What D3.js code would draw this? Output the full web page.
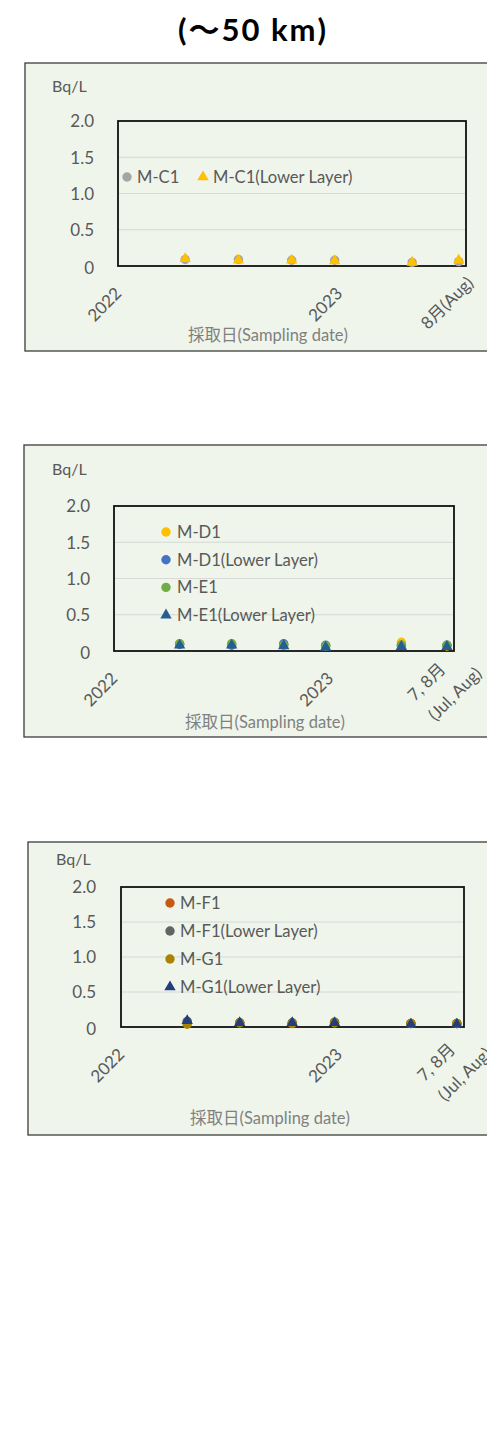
<!DOCTYPE html>
<html>
<head>
<meta charset="utf-8">
<script src="https://cdn.jsdelivr.net/npm/d3@7"></script>
<style>
  html, body { margin: 0; padding: 0; background: #ffffff; }
  svg { display: block; }
  text { font-family: Lato, "Noto Sans", "Noto Sans CJK JP", sans-serif; }
</style>
</head>
<body>
<svg id="chart" width="487" height="1429"></svg>
<script>
// ---------------- DATA ----------------
const titleText = "(〜50 km)";
const unitLabel = "Bq/L";
const axisTitle = "採取日(Sampling date)";
const sampleDates = ["2022-04-22", "2022-07-19", "2022-10-15", "2022-12-25", "2023-05-02", "2023-07-18"];
const xDomain = ["2022-01-01", "2023-07-30"];
const yTicks = [0, 0.5, 1.0, 1.5, 2.0];
const yTickLabels = ["0", "0.5", "1.0", "1.5", "2.0"];
const xTickDates = ["2022-01-01", "2023-01-01"];
const xTickLabels = ["2022", "2023"];
const endLabelPanel1 = ["8月(Aug)"];
const endLabelPanel23 = ["7, 8月", "(Jul, Aug)"];

// Panel 1
const names1 = ["M-C1", "M-C1(Lower Layer)"];
const mC1      = [0.09, 0.09, 0.08, 0.08, 0.05, 0.06];
const mC1Lower = [0.10, 0.08, 0.08, 0.07, 0.05, 0.08];

// Panel 2
const names2 = ["M-D1", "M-D1(Lower Layer)", "M-E1", "M-E1(Lower Layer)"];
const mD1      = [0.10, 0.10, 0.09, 0.07, 0.12, 0.07];
const mD1Lower = [0.09, 0.08, 0.10, 0.08, 0.08, 0.08];
const mE1      = [0.10, 0.10, 0.08, 0.07, 0.08, 0.08];
const mE1Lower = [0.08, 0.08, 0.07, 0.05, 0.06, 0.06];

// Panel 3
const names3 = ["M-F1", "M-F1(Lower Layer)", "M-G1", "M-G1(Lower Layer)"];
const mF1      = [0.07, 0.06, 0.05, 0.06, 0.05, 0.05];
const mF1Lower = [0.08, 0.06, 0.06, 0.07, 0.05, 0.05];
const mG1      = [0.04, 0.06, 0.05, 0.06, 0.05, 0.05];
const mG1Lower = [0.09, 0.06, 0.06, 0.06, 0.04, 0.04];

// ---------------- STYLE / LAYOUT ----------------
const parse = d3.timeParse("%Y-%m-%d");
const svg = d3.select("#chart");
const bg = "#eff5eb";
const tickColor = "#595959";

svg.append("text")
  .attr("x", 253).attr("y", 29)
  .attr("text-anchor", "middle").attr("dominant-baseline", "central")
  .attr("font-family", "'Noto Sans CJK JP', 'Noto Sans', sans-serif")
  .attr("font-size", 31).attr("font-weight", 700).attr("fill", "#000")
  .attr("letter-spacing", 2)
  .text(titleText);

const panels = [
  {
    box: {x: 25, y: 63, h: 288}, plot: {l: 118, r: 466, t: 121, b: 266},
    yLabX: 94, unit: {x: 52, y: 85}, titleY: 335, titleX: 268,
    series: [
      {name: names1[0], values: mC1, color: "#a5a5a5", shape: "circle"},
      {name: names1[1], values: mC1Lower, color: "#ffc000", shape: "triangle"}
    ],
    legend: {type: "row", y: 177, items: [{sx: 127, tx: 137}, {sx: 203, tx: 213}]},
    endLabel: endLabelPanel1, endOffsets: [[-19.3, 36.5]]
  },
  {
    box: {x: 24, y: 445, h: 292}, plot: {l: 114, r: 454, t: 506, b: 651},
    yLabX: 90, unit: {x: 52, y: 468.5}, titleY: 722, titleX: 265,
    series: [
      {name: names2[0], values: mD1, color: "#ffc000", shape: "circle"},
      {name: names2[1], values: mD1Lower, color: "#4472c4", shape: "circle"},
      {name: names2[2], values: mE1, color: "#70ad47", shape: "circle"},
      {name: names2[3], values: mE1Lower, color: "#255e91", shape: "triangle"}
    ],
    legend: {type: "col", sx: 166, tx: 177, y0: 532, dy: 27.7},
    endLabel: endLabelPanel23, endOffsets: [[-28, 30.5], [0.5, 42.5]]
  },
  {
    box: {x: 28, y: 842, h: 293}, plot: {l: 121, r: 464, t: 887, b: 1027},
    yLabX: 96, unit: {x: 56, y: 858.5}, titleY: 1118, titleX: 270,
    series: [
      {name: names3[0], values: mF1, color: "#c55a11", shape: "circle"},
      {name: names3[1], values: mF1Lower, color: "#636363", shape: "circle"},
      {name: names3[2], values: mG1, color: "#a88300", shape: "circle"},
      {name: names3[3], values: mG1Lower, color: "#203f7c", shape: "triangle"}
    ],
    legend: {type: "col", sx: 170, tx: 180, y0: 903, dy: 28},
    endLabel: endLabelPanel23, endOffsets: [[-28.2, 34.7], [0.3, 46.7]]
  }
];

const tri = d3.symbol().type(d3.symbolTriangle).size(56);

function marker(g, shape, color, x, y) {
  if (shape === "circle") {
    g.append("circle").attr("cx", x).attr("cy", y).attr("r", 4.7).attr("fill", color);
  } else {
    g.append("path").attr("d", tri).attr("transform", `translate(${x},${y})`).attr("fill", color);
  }
}

panels.forEach(p => {
  const g = svg.append("g");
  const W = 487 - p.box.x + 5;
  g.append("rect")
    .attr("x", p.box.x).attr("y", p.box.y).attr("width", W).attr("height", p.box.h)
    .attr("fill", bg).attr("stroke", "#3c3c3c").attr("stroke-width", 1.3);

  const x = d3.scaleTime().domain(xDomain.map(parse)).range([p.plot.l, p.plot.r]);
  const y = d3.scaleLinear().domain([0, 2]).range([p.plot.b, p.plot.t]);

  // gridlines
  g.append("g").selectAll("line")
    .data(yTicks.filter(t => t > 0 && t < 2)).join("line")
    .attr("x1", p.plot.l).attr("x2", p.plot.r)
    .attr("y1", d => y(d)).attr("y2", d => y(d))
    .attr("stroke", "#d6d9d4").attr("stroke-width", 1.2);

  // y axis labels via d3 axis
  const yAxis = d3.axisLeft(y).tickValues(yTicks)
    .tickFormat((d, i) => yTickLabels[i]).tickSize(0).tickPadding(0);
  const ya = g.append("g").attr("transform", `translate(${p.yLabX},0)`).call(yAxis);
  ya.select(".domain").remove();
  ya.selectAll("text").attr("font-size", 17).attr("fill", tickColor)
    .attr("font-family", "Lato, 'Noto Sans', sans-serif")
    .attr("dy", (d) => d === 0 ? "0.42em" : "0.35em");

  // x tick labels
  xTickDates.forEach((ds, i) => {
    const tx = x(parse(ds)) - 14, ty = p.plot.b + 38;
    g.append("text")
      .attr("transform", `translate(${tx},${ty}) rotate(-45)`)
      .attr("text-anchor", "middle").attr("dominant-baseline", "central")
      .attr("font-size", 17).attr("fill", tickColor)
      .text(xTickLabels[i]);
  });
  p.endLabel.forEach((lab, i) => {
    const xe = x(parse(xDomain[1]));
    const tx = xe + p.endOffsets[i][0], ty = p.plot.b + p.endOffsets[i][1];
    g.append("text")
      .attr("transform", `translate(${tx},${ty}) rotate(-45)`)
      .attr("text-anchor", "middle").attr("dominant-baseline", "central")
      .attr("font-size", 17).attr("fill", tickColor)
      .text(lab);
  });

  // unit
  g.append("text").attr("x", p.unit.x).attr("y", p.unit.y)
    .attr("dominant-baseline", "central").attr("font-size", 16).attr("fill", tickColor)
    .text(unitLabel);
  // axis title
  g.append("text").attr("x", p.titleX).attr("y", p.titleY)
    .attr("text-anchor", "middle").attr("dominant-baseline", "central")
    .attr("font-size", 16.5).attr("fill", "#808080")
    .text(axisTitle);

  // legend
  p.series.forEach((s, i) => {
    let sx, tx, ly;
    if (p.legend.type === "row") {
      sx = p.legend.items[i].sx; tx = p.legend.items[i].tx; ly = p.legend.y;
    } else {
      sx = p.legend.sx; tx = p.legend.tx; ly = p.legend.y0 + i * p.legend.dy;
    }
    marker(g, s.shape, s.color, sx, ly);
    g.append("text").attr("x", tx).attr("y", ly)
      .attr("dominant-baseline", "central").attr("font-size", 16.6).attr("fill", tickColor)
      .text(s.name);
  });

  // plot frame
  g.append("rect")
    .attr("x", p.plot.l).attr("y", p.plot.t)
    .attr("width", p.plot.r - p.plot.l).attr("height", p.plot.b - p.plot.t)
    .attr("fill", "none").attr("stroke", "#111").attr("stroke-width", 1.8);

  // points
  const pg = g.append("g");
  p.series.forEach(s => {
    s.values.forEach((v, i) => {
      marker(pg, s.shape, s.color, x(parse(sampleDates[i])), y(v));
    });
  });
});
</script>
</body>
</html>
